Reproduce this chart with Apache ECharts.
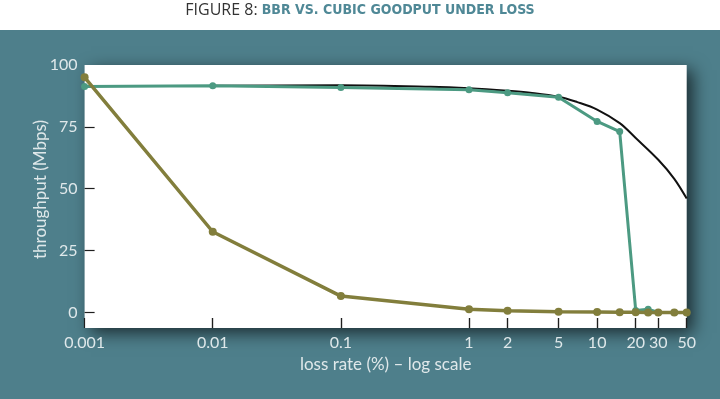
<!DOCTYPE html>
<html>
<head>
<meta charset="utf-8">
<script src="https://cdn.jsdelivr.net/npm/echarts@6/dist/echarts.min.js"></script>
<style>
html,body{margin:0;padding:0;}
body{width:720px;height:399px;background:linear-gradient(to bottom,#ffffff 0px,#ffffff 30px,#4e7f8b 30px,#4e7f8b 399px);}
#c{width:720px;height:399px;}
</style>
</head>
<body>
<div id="c"></div>
<script>
// loss rates (%) shared by the measured series
const lossRates = [0.001, 0.01, 0.1, 1, 2, 5, 10, 15, 20, 25, 30, 40, 50];
const bbrGoodput = [91.3, 91.6, 90.9, 90.0, 88.8, 87.0, 77.2, 73.1, 0.8, 1.3, 0, 0, 0];
const cubicGoodput = [95.0, 32.6, 6.6, 1.3, 0.7, 0.3, 0.2, 0.1, 0.1, 0, 0, 0, 0];
// theoretical ideal curve (black)
const idealLoss = [0.001, 0.01, 0.1, 0.5, 1, 2, 3, 5, 7, 10, 15, 20, 30, 40, 50];
const idealGoodput = [91.5, 91.6, 91.8, 91.2, 90.6, 89.6, 88.8, 87.2, 85.0, 82.0, 76.5, 70.5, 61.7, 54.0, 46.0];
// tick labels
const xTickValues = [0.001, 0.01, 0.1, 1, 2, 5, 10, 20, 30, 50];
const yTickValues = [0, 25, 50, 75, 100];

const labelColor = '#dfe8ea';
const labelFont = 'Lato, "Open Sans", sans-serif';
const tickColor = '#1e1e1e';

const chart = echarts.init(document.getElementById('c'), null, {renderer: 'canvas'});
chart.setOption({
  backgroundColor: 'transparent',
  animation: false,
  title: {
    left: 'center',
    top: 0,
    padding: [0, 0, 0, 11],
    text: '{a|FIGURE 8: }{b|BBR VS. CUBIC GOODPUT UNDER LOSS}',
    textStyle: {
      rich: {
        a: {fontFamily: '"Open Sans", Lato, sans-serif', fontSize: 16, lineHeight: 20, color: '#333333', fontWeight: 'normal'},
        b: {fontFamily: '"Liberation Sans Narrow", "DejaVu Sans Condensed", sans-serif', fontSize: 14, lineHeight: 20, color: '#4f8896', fontWeight: 'bold'}
      }
    }
  },
  grid: [
    {
      left: 84.6, right: 33.3, top: 65, bottom: 71,
      show: true, backgroundColor: '#ffffff', borderWidth: 0,
      shadowColor: 'rgba(0,0,0,0.65)', shadowBlur: 16, shadowOffsetX: 6, shadowOffsetY: 5
    },
    {
      // thin strip along the bottom of the plot that carries the x tick marks
      left: 84.6, right: 33.3, bottom: 71, height: 10, show: false, z: 10
    }
  ],
  xAxis: [
    {
      type: 'log', logBase: 10, min: 0.001, max: 50, position: 'bottom', gridIndex: 0,
      name: 'loss rate (%) – log scale',
      nameLocation: 'middle', nameGap: 28,
      nameTextStyle: {color: labelColor, fontSize: 17, fontFamily: labelFont},
      axisLine: {show: false, onZero: false},
      splitLine: {show: false},
      axisTick: {show: false},
      axisLabel: {
        customValues: xTickValues, color: labelColor, fontSize: 16, fontFamily: labelFont, margin: 7,
        formatter: v => String(parseFloat(Number(v).toPrecision(6)))
      }
    },
    {
      type: 'log', logBase: 10, min: 0.001, max: 50, position: 'bottom', gridIndex: 1, z: 10,
      axisLine: {show: false, onZero: false},
      axisTick: {show: true, inside: true, length: 10, customValues: xTickValues, lineStyle: {color: tickColor, width: 1.2}},
      splitLine: {show: true, showMinLine: false, lineStyle: {color: tickColor, width: 1.2}},
      axisLabel: {show: false}
    }
  ],
  yAxis: [
    {
      type: 'value', min: -6.3, max: 100, gridIndex: 0,
      name: 'throughput (Mbps)',
      nameLocation: 'middle', nameGap: 36, nameMoveOverlap: false,
      nameTextStyle: {color: labelColor, fontSize: 17, fontFamily: labelFont, padding: [0, 0, 0, 14]},
      axisLine: {show: false},
      splitLine: {show: false},
      axisTick: {show: true, inside: true, length: 10, customValues: [0, 25, 50, 75], lineStyle: {color: tickColor, width: 1.2}},
      axisLabel: {customValues: yTickValues, color: labelColor, fontSize: 16, fontFamily: labelFont, margin: 7}
    },
    {
      type: 'value', min: 0, max: 1, gridIndex: 1, show: false
    }
  ],
  series: [
    {
      name: 'ideal', type: 'line', smooth: 0.35, showSymbol: false, symbol: 'none',
      xAxisIndex: 0, yAxisIndex: 0,
      data: idealLoss.map((x, i) => [x, idealGoodput[i]]),
      lineStyle: {color: '#111111', width: 2}, z: 2
    },
    {
      name: 'BBR', type: 'line', symbol: 'circle', symbolSize: 7,
      xAxisIndex: 0, yAxisIndex: 0,
      data: lossRates.map((x, i) => [x, bbrGoodput[i]]),
      lineStyle: {color: '#4c9a82', width: 3}, itemStyle: {color: '#4c9a82'}, z: 3
    },
    {
      name: 'CUBIC', type: 'line', symbol: 'circle', symbolSize: 8,
      xAxisIndex: 0, yAxisIndex: 0,
      data: lossRates.map((x, i) => [x, cubicGoodput[i]]),
      lineStyle: {color: '#827e3c', width: 3.5}, itemStyle: {color: '#827e3c'}, z: 4
    }
  ]
});
</script>
</body>
</html>
